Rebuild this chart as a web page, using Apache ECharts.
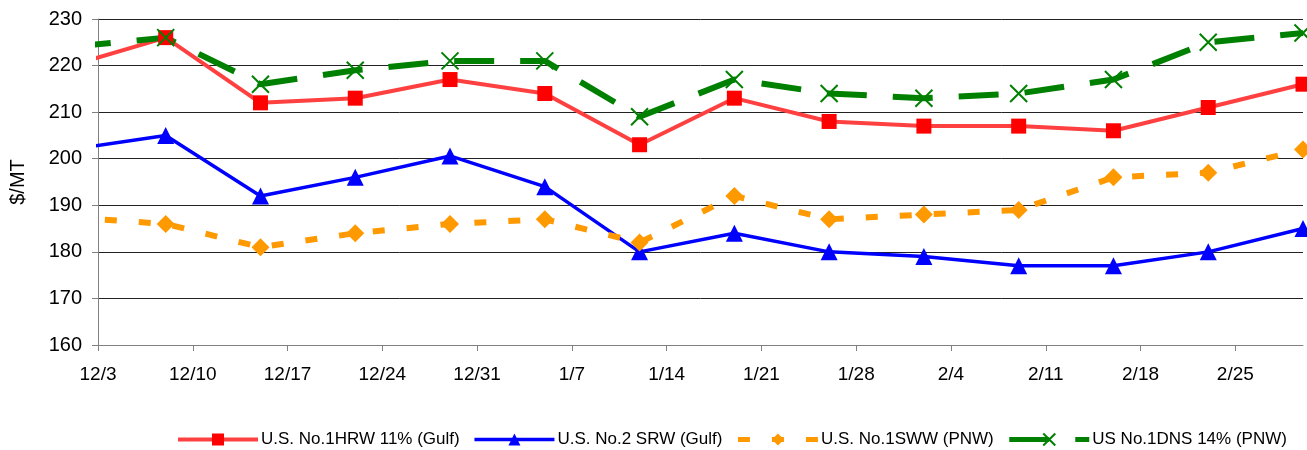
<!DOCTYPE html>
<html>
<head>
<meta charset="utf-8">
<title>Wheat prices</title>
<script src="https://cdn.jsdelivr.net/npm/echarts@6/dist/echarts.min.js"></script>
<style>
    html, body { margin: 0; padding: 0; background: #fff; }
    #main { width: 1307px; height: 450px; }
</style>
</head>
<body>
<div id="main"></div>
<script>
    // weekly quotes, first one (12/1) sits left of the axis and gets clipped
    var dates = ['12/1', '12/8', '12/15', '12/22', '12/29', '1/5', '1/12', '1/19', '1/26', '2/2', '2/9', '2/16', '2/23', '3/2'];
    var hrw = [220, 226, 212, 213, 217, 214, 203, 213, 208, 207, 207, 206, 211, 216];
    var srw = [202, 205, 192, 196, 200.6, 194, 180, 184, 180, 179, 177, 177, 180, 185];
    var sww = [187.4, 186, 181, 184, 186, 187, 182, 192, 187, 188, 189, 196, 197, 202];
    var dns = [224, 226, 216, 219, 221, 221, 209, 217, 214, 213, 214, 217, 225, 227];
    var tickLabels = ['12/3', '12/10', '12/17', '12/24', '12/31', '1/7', '1/14', '1/21', '1/28', '2/4', '2/11', '2/18', '2/25'];
    var axisStart = '12/3', axisEnd = '3/2';
    var yTicks = [160, 170, 180, 190, 200, 210, 220, 230];
    var names = ['U.S. No.1HRW 11% (Gulf)', 'U.S. No.2 SRW (Gulf)', 'U.S. No.1SWW (PNW)', 'US No.1DNS 14% (PNW)'];

    // day offset from the first axis date
    function dayOf(s) {
        var p = s.split('/');
        var m = +p[0], d = +p[1];
        var y = m >= 12 ? 2006 : 2007;
        return Math.round((Date.UTC(y, m - 1, d) - Date.UTC(2006, 11, 3)) / 86400000);
    }
    function pairs(vals) {
        return vals.map(function (v, i) { return [dayOf(dates[i]), v]; });
    }
    var tickDays = tickLabels.map(dayOf);
    var labelOf = {};
    tickLabels.forEach(function (t) { labelOf[dayOf(t)] = t; });

    var font = '"Liberation Sans", Arial, sans-serif';
    var myChart = echarts.init(document.getElementById('main'));

    var option = {
        animation: false,
        backgroundColor: '#fff',
        grid: { left: 98, right: 4, top: 19, bottom: 105, containLabel: false },
        legend: {
            left: 171,
            top: 426,
            itemWidth: 80,
            itemHeight: 15,
            itemGap: 13,
            textStyle: { fontFamily: font, fontSize: 17, color: '#000', padding: [0, 0, 0, -2] },
            data: [
                { name: names[0], lineStyle: { width: 4 } },
                { name: names[1], lineStyle: { width: 3.5 } },
                { name: names[2], lineStyle: { width: 5 } },
                { name: names[3], lineStyle: { width: 5 } }
            ]
        },
        xAxis: {
            type: 'value',
            min: dayOf(axisStart),
            max: dayOf(axisEnd),
            splitLine: { show: false },
            axisLine: { lineStyle: { color: '#808080', width: 1 } },
            axisTick: { customValues: tickDays, length: 6, lineStyle: { color: '#808080' } },
            axisLabel: {
                customValues: tickDays,
                margin: 20,
                fontFamily: font,
                fontSize: 19,
                color: '#000',
                formatter: function (v) { return labelOf[v] || ''; }
            }
        },
        yAxis: {
            type: 'value',
            min: yTicks[0],
            max: yTicks[yTicks.length - 1],
            interval: 10,
            name: '$/MT',
            nameLocation: 'middle',
            nameRotate: 90,
            nameGap: 70,
            nameTextStyle: { fontFamily: font, fontSize: 20, color: '#000' },
            axisLine: { show: true, lineStyle: { color: '#808080', width: 1 } },
            axisTick: { show: true, length: 6, lineStyle: { color: '#808080' } },
            axisLabel: { margin: 16, fontFamily: font, fontSize: 20, color: '#000' },
            splitLine: { lineStyle: { color: '#222', width: 1 } }
        },
        series: [
            {
                name: names[0],
                type: 'line',
                data: pairs(hrw),
                symbol: 'rect',
                symbolSize: 15,
                itemStyle: { color: '#FF0000' },
                lineStyle: { color: '#FF4040', width: 4 }
            },
            {
                name: names[1],
                type: 'line',
                data: pairs(srw),
                symbol: 'triangle',
                symbolSize: 17,
                itemStyle: { color: '#0000FF' },
                lineStyle: { color: '#0000FF', width: 3.5 }
            },
            {
                name: names[2],
                type: 'line',
                data: pairs(sww),
                symbol: 'diamond',
                symbolSize: 18,
                itemStyle: { color: '#FF9900' },
                lineStyle: { color: '#FF9900', width: 6, type: [12, 22] }
            },
            {
                name: names[3],
                type: 'line',
                data: pairs(dns),
                symbol: 'path://M0,0L10,10M10,0L0,10',
                symbolSize: 17,
                itemStyle: { color: 'none', borderColor: '#008000', borderWidth: 2 },
                lineStyle: { color: '#008000', width: 6, type: [40, 26] }
            }
        ]
    };

    myChart.setOption(option);
</script>
</body>
</html>
